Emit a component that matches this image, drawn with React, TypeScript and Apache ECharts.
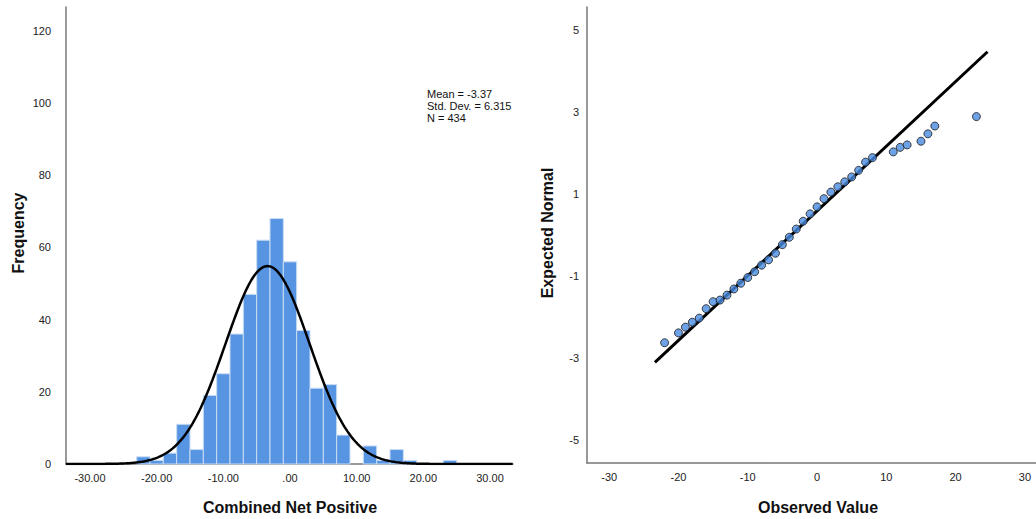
import React, { useEffect, useRef } from "react";
import * as echarts from "echarts";

// Histogram (bin centres, bin width 2) and counts
const binCenters = [-22, -20, -18, -16, -14, -12, -10, -8, -6, -4, -2, 0, 2, 4, 6, 8, 10, 12, 14, 16, 18, 20, 22, 24];
const binCounts = [2, 1, 3, 11, 4, 19, 25, 36, 47, 62, 68, 56, 37, 21, 22, 8, 0, 5, 1, 4, 1, 0, 0, 1];
const binWidth = 2;
const mean = -3.37;
const sd = 6.315;
const nObs = 434;
const statLines = ["Mean = -3.37", "Std. Dev. = 6.315", "N = 434"];

const histXTicks = [-30, -20, -10, 0, 10, 20, 30];
const histYTicks = [0, 20, 40, 60, 80, 100, 120];

// Q-Q plot points
const qqObserved = [-22, -20, -19, -18, -17, -16, -15, -14, -13, -12, -11, -10, -9, -8, -7, -6, -5, -4, -3, -2, -1, 0, 1, 2, 3, 4, 5, 6, 7, 8, 11, 12, 13, 15, 16, 17, 23];
const qqExpected = [-2.62, -2.38, -2.24, -2.12, -2.02, -1.79, -1.62, -1.58, -1.46, -1.31, -1.17, -1.03, -0.89, -0.73, -0.6, -0.44, -0.23, -0.05, 0.15, 0.34, 0.52, 0.69, 0.89, 1.05, 1.18, 1.3, 1.42, 1.58, 1.78, 1.89, 2.03, 2.14, 2.2, 2.29, 2.47, 2.66, 2.89];
// reference line end points (observed, expected)
const qqLineX = [-23.4, 24.6];
const qqLineY = [-3.1, 4.47];
const qqXTicks = [-30, -20, -10, 0, 10, 20, 30];
const qqYTicks = [-5, -3, -1, 1, 3, 5];

const FONT = "Liberation Sans, Arial, sans-serif";

function fmt2(v: number) {
  if (v === 0) return ".00";
  return v.toFixed(2);
}

export default function App() {
  const ref = useRef<HTMLDivElement>(null);
  useEffect(() => {
    document.body.style.margin = "0";
    const chart = echarts.init(ref.current!, undefined, { renderer: "svg" });

    const xMin = -33.6, xMax = 33.45;
    const curve: number[][] = [];
    for (let x = xMin; x <= xMax + 1e-9; x += 0.2) {
      const z = (x - mean) / sd;
      curve.push([x, (nObs * binWidth) / (sd * Math.sqrt(2 * Math.PI)) * Math.exp(-0.5 * z * z)]);
    }
    const histData = binCenters.map((c, i) => [c, binCounts[i]]);
    const qqData = qqObserved.map((x, i) => [x, qqExpected[i]]);
    const lineData = qqLineX.map((x, i) => [x, qqLineY[i]]);

    const axisLine = { show: true, onZero: false, lineStyle: { color: "#777", width: 1.5 } };
    const lblStyle = { color: "#222", fontSize: 11, fontFamily: FONT };

    chart.setOption({
      animation: false,
      backgroundColor: "#fff",
      grid: [
        { left: 66, top: 7, width: 447, height: 457, outerBoundsMode: "none" },
        { left: 587, top: 7, width: 449, height: 456, outerBoundsMode: "none" },
      ],
      xAxis: [
        {
          gridIndex: 0, type: "value", min: xMin, max: xMax,
          axisLine, axisTick: { show: false }, splitLine: { show: false },
          axisLabel: { ...lblStyle, margin: 8, customValues: histXTicks, formatter: (v: number) => fmt2(v) },
        },
        {
          gridIndex: 1, type: "value", min: -33.2, max: 31.6,
          axisLine, axisTick: { show: false }, splitLine: { show: false },
          axisLabel: { ...lblStyle, margin: 8, customValues: qqXTicks },
        },
      ],
      yAxis: [
        {
          gridIndex: 0, type: "value", min: 0, max: 126.6,
          axisLine, axisTick: { show: false }, splitLine: { show: false },
          axisLabel: { ...lblStyle, margin: 15, customValues: histYTicks },
        },
        {
          gridIndex: 1, type: "value", min: -5.55, max: 5.56,
          axisLine, axisTick: { show: false }, splitLine: { show: false },
          axisLabel: { ...lblStyle, margin: 8, customValues: qqYTicks },
        },
      ],
      series: [
        {
          type: "custom",
          xAxisIndex: 0, yAxisIndex: 0,
          data: histData,
          renderItem: (params: any, api: any) => {
            const c = api.value(0), n = api.value(1);
            if (!n) return null;
            const p0 = api.coord([c - binWidth / 2, n]);
            const p1 = api.coord([c + binWidth / 2, 0]);
            return {
              type: "rect",
              shape: { x: p0[0], y: p0[1], width: p1[0] - p0[0], height: p1[1] - p0[1] },
              style: { fill: "#5795e3", stroke: "#c9dcf4", lineWidth: 1 },
            };
          },
          z: 2,
        },
        {
          type: "line", xAxisIndex: 0, yAxisIndex: 0,
          data: curve, showSymbol: false, symbol: "none",
          lineStyle: { color: "#000", width: 2.5 }, z: 3,
        },
        {
          type: "line", xAxisIndex: 1, yAxisIndex: 1,
          data: lineData, showSymbol: false, symbol: "none",
          lineStyle: { color: "#000", width: 3 }, z: 2,
        },
        {
          type: "scatter", xAxisIndex: 1, yAxisIndex: 1,
          data: qqData, symbol: "circle", symbolSize: 8,
          itemStyle: { color: "#4a8be0", borderColor: "#1a1a1a", borderWidth: 1 }, z: 3,
        },
      ],
      graphic: [
        ...statLines.map((t, i) => ({
          type: "text", left: 427, top: 88 + i * 12,
          style: { text: t, fill: "#111", font: `11px ${FONT}` },
        })),
        {
          type: "text", x: 18, y: 233, rotation: Math.PI / 2,
          style: { text: "Frequency", fill: "#111", font: `bold 16px ${FONT}`, align: "center", verticalAlign: "middle" },
        },
        {
          type: "text", x: 547, y: 233, rotation: Math.PI / 2,
          style: { text: "Expected Normal", fill: "#111", font: `bold 16px ${FONT}`, align: "center", verticalAlign: "middle" },
        },
        {
          type: "text", x: 290, y: 507,
          style: { text: "Combined Net Positive", fill: "#111", font: `bold 16px ${FONT}`, align: "center", verticalAlign: "middle" },
        },
        {
          type: "text", x: 818, y: 507,
          style: { text: "Observed Value", fill: "#111", font: `bold 16px ${FONT}`, align: "center", verticalAlign: "middle" },
        },
      ],
    });
    return () => chart.dispose();
  }, []);
  return <div ref={ref} style={{ width: 1036, height: 519, overflow: "hidden" }} />;
}
